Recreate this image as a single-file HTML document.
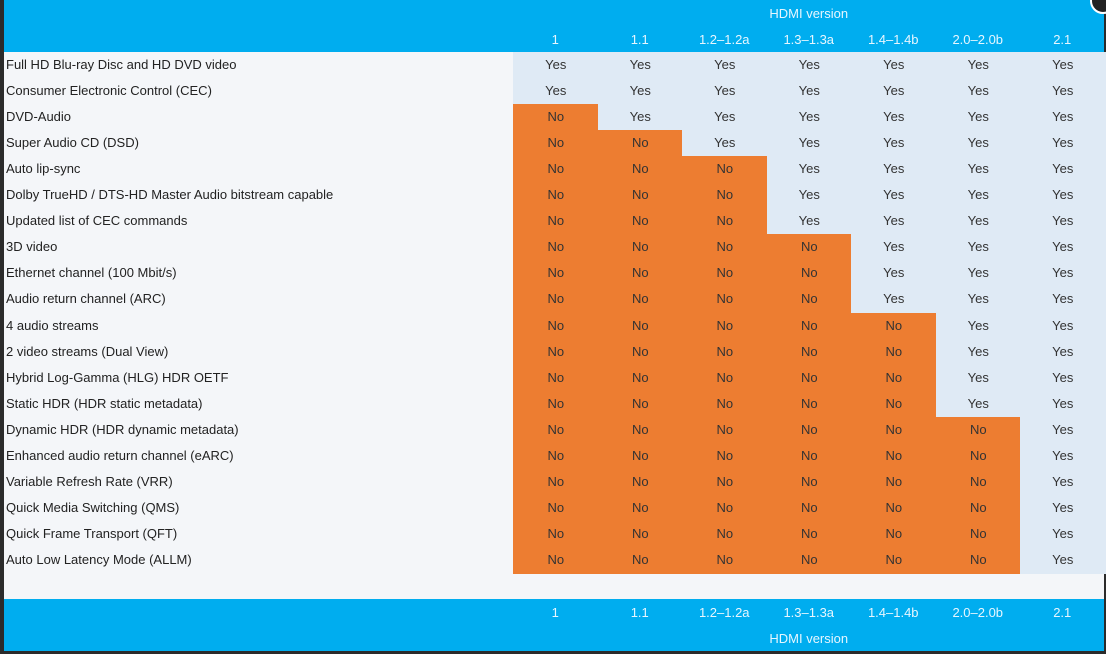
<!DOCTYPE html>
<html><head><meta charset="utf-8"><style>
body{margin:0;width:1106px;height:654px;background:#2b2b2b;overflow:hidden;font-family:"Liberation Sans",sans-serif;}
#wrap{position:absolute;left:4px;top:0;width:1100px;height:651px;background:#f4f6f9;}
.band{position:absolute;left:0;width:1100px;background:#00adef;}
.t{position:absolute;font-size:13px;color:#222;white-space:nowrap;}
.h{position:absolute;font-size:13px;color:#e6f6ff;text-align:center;}
.c{position:absolute;font-size:13px;text-align:center;color:#333;}
</style></head><body>
<div id="wrap">
<div class="band" style="top:0;height:52px"></div>
<div class="band" style="top:599px;height:52px"></div>
</div>
<div style="position:absolute;left:1090px;top:-12px;width:22px;height:22px;border-radius:50%;background:#222;border:2px solid #fff"></div>
<script>
const versions=["1","1.1","1.2–1.2a","1.3–1.3a","1.4–1.4b","2.0–2.0b","2.1"];
const features=["Full HD Blu-ray Disc and HD DVD video","Consumer Electronic Control (CEC)","DVD-Audio","Super Audio CD (DSD)","Auto lip-sync","Dolby TrueHD / DTS-HD Master Audio bitstream capable","Updated list of CEC commands","3D video","Ethernet channel (100 Mbit/s)","Audio return channel (ARC)","4 audio streams","2 video streams (Dual View)","Hybrid Log-Gamma (HLG) HDR OETF","Static HDR (HDR static metadata)","Dynamic HDR (HDR dynamic metadata)","Enhanced audio return channel (eARC)","Variable Refresh Rate (VRR)","Quick Media Switching (QMS)","Quick Frame Transport (QFT)","Auto Low Latency Mode (ALLM)","Display Stream Compression (DSC)"];
const firstVersion=[0,0,1,2,3,3,3,4,4,4,5,5,5,5,6,6,6,6,6,6,6];
const W=document.getElementById('wrap');
const x0=509,cw=84.5,y0=52,rh=26.05;
function add(cls,txt,css){const d=document.createElement('div');d.className=cls;d.textContent=txt;d.style.cssText=css;W.appendChild(d);return d;}
let e=add('h','HDMI version','left:'+x0+'px;width:'+(cw*7)+'px;top:6px');


e=add('h','HDMI version','left:'+x0+'px;width:'+(cw*7)+'px;top:631px');


versions.forEach((v,j)=>{
 let a=add('h',v,'left:'+(x0+j*cw)+'px;width:'+cw+'px;top:32px');
 
 
 let b=add('h',v,'left:'+(x0+j*cw)+'px;width:'+cw+'px;top:605px');
 
 
});
features.slice(0,20).forEach((f,i)=>{
 const y=y0+i*rh;
 let l=add('t',f,'left:2px;top:'+(y+5)+'px');
 
 
 versions.forEach((v,j)=>{
  const yes=j>=firstVersion[i];
  let c=add('c',yes?'Yes':'No','left:'+(x0+j*cw)+'px;width:'+(cw+1)+'px;top:'+y+'px;height:'+(rh+1)+'px;line-height:'+rh+'px;background:'+(yes?'#dfeaf5':'#ed7d31'));
  
  
 });
});
</script>
</body></html>
